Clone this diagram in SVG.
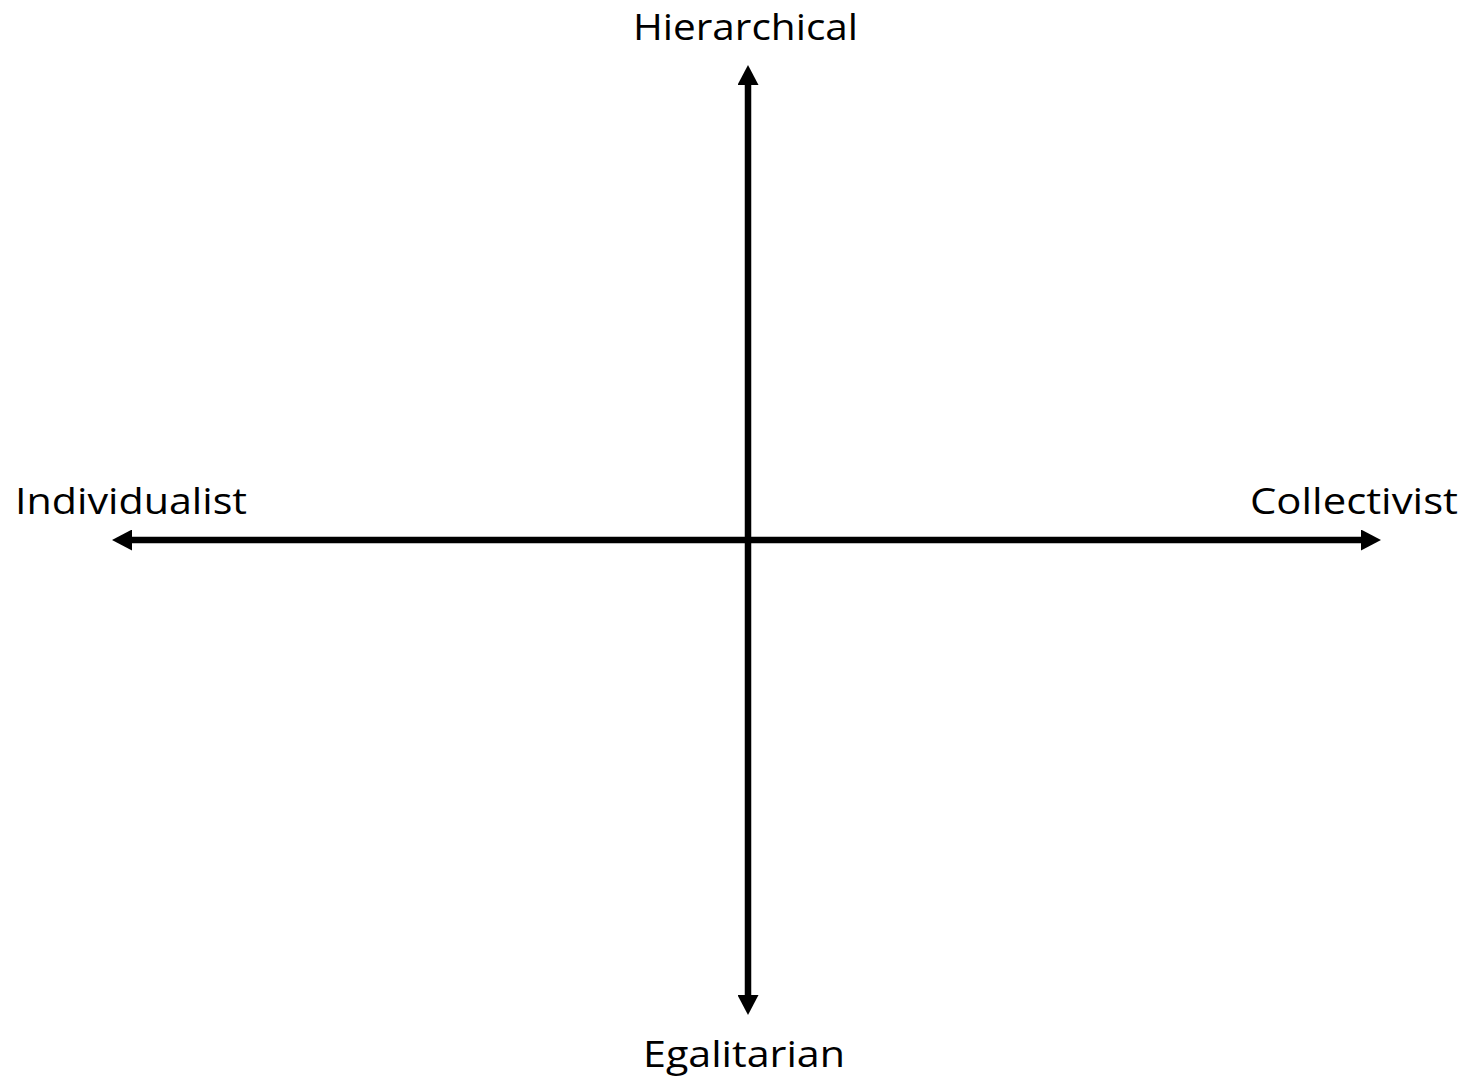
<svg xmlns="http://www.w3.org/2000/svg" width="1472" height="1079" viewBox="0 0 1472 1079">
<style>
.lbl{font-family:"Open Sans","Liberation Sans",sans-serif;font-size:37px;fill:#000}
.axis{stroke:#000;stroke-width:6.5;fill:none}
</style>
<defs>
<marker id="arr" markerUnits="userSpaceOnUse" markerWidth="20" markerHeight="21" refX="0" refY="10.5" orient="auto-start-reverse" viewBox="0 0 20 21">
<path d="M0,0 L20,10.5 L0,21 Z" fill="#000"/>
</marker>
</defs>
<rect width="1472" height="1079" fill="#fff"/>
<g id="connectors">
<line class="axis" x1="748" y1="85" x2="748" y2="995" marker-start="url(#arr)" marker-end="url(#arr)"/>
<line class="axis" x1="132" y1="540" x2="1361" y2="540" marker-start="url(#arr)" marker-end="url(#arr)"/>
</g>
<g id="hierarchical"><text class="lbl" x="633" y="40" textLength="225" lengthAdjust="spacingAndGlyphs">Hierarchical</text></g>
<g id="egalitarian"><text class="lbl" x="643" y="1067" textLength="202" lengthAdjust="spacingAndGlyphs">Egalitarian</text></g>
<g id="individualist"><text class="lbl" x="15" y="514" textLength="232" lengthAdjust="spacingAndGlyphs">Individualist</text></g>
<g id="collectivist"><text class="lbl" x="1250" y="514" textLength="208" lengthAdjust="spacingAndGlyphs">Collectivist</text></g>
</svg>
